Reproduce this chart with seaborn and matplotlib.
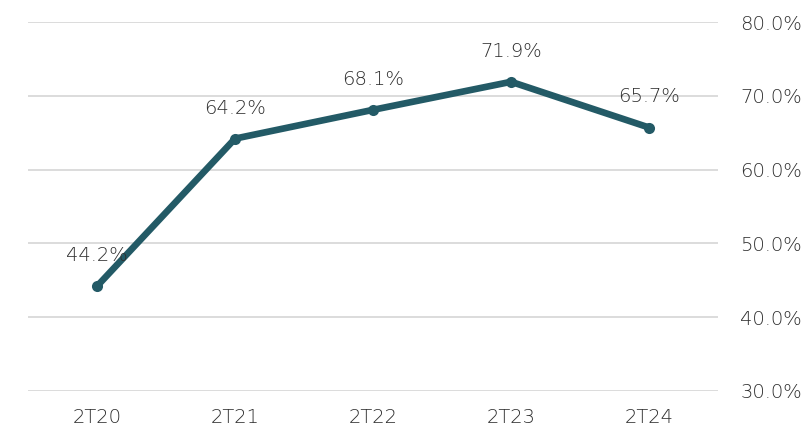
import matplotlib
matplotlib.use("Agg")
import matplotlib.pyplot as plt
import seaborn as sns
import pandas as pd
from matplotlib.ticker import FuncFormatter

periods = ["2T20", "2T21", "2T22", "2T23", "2T24"]
values = [44.2, 64.2, 68.1, 71.9, 65.7]
y_ticks = [30, 40, 50, 60, 70, 80]

line_color = "#235a66"
text_color = "#2e2e2e"

sns.set_theme(style="white")
plt.rcParams["font.family"] = ["DejaVu Sans"]
plt.rcParams["font.weight"] = "light"

df = pd.DataFrame({"period": periods, "value": values})

fig = plt.figure(figsize=(8.08, 4.32), dpi=100)
ax = fig.add_axes([0.0347, 0.095, 0.854, 0.854])

sns.lineplot(data=df, x="period", y="value", ax=ax, color=line_color,
             linewidth=4.8, marker="o", markersize=8, markeredgewidth=0,
             sort=False)

for i, v in enumerate(values):
    ax.annotate(f"{v:.1f}%", (i, v), xytext=(0, 22), textcoords="offset points",
                ha="center", va="center", fontsize=14, color=text_color,
                fontweight="light")

ax.set_xlim(-0.5, 4.5)
ax.set_ylim(30, 80)
ax.set_yticks(y_ticks)
ax.yaxis.tick_right()
ax.yaxis.set_major_formatter(FuncFormatter(lambda v, p: f"{v:.1f}%"))
ax.tick_params(axis="y", length=0, pad=16, labelsize=14, labelcolor=text_color)
ax.tick_params(axis="x", length=0, pad=12, labelsize=14, labelcolor=text_color)
ax.grid(axis="y", color="#d9d9d9", linewidth=1.3)
ax.set_axisbelow(True)
for s in ax.spines.values():
    s.set_visible(False)
ax.set_xlabel("")
ax.set_ylabel("")

fig.savefig("out.png", dpi=100)
